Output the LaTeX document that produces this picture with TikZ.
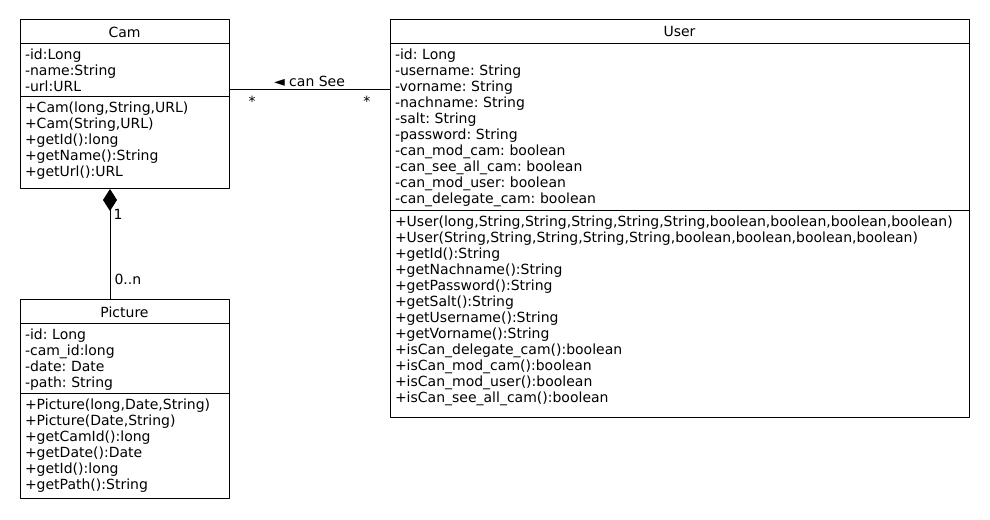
\documentclass[tikz,border=0pt]{standalone}
\usepackage{fontspec}
\setmainfont{DejaVu Sans}
\usetikzlibrary{positioning,arrows.meta}

\begin{document}
\frenchspacing
\begin{tikzpicture}[>=latex,line join=bevel,line width=1bp,
  font=\fontsize{14bp}{16bp}\selectfont,
  classtitle/.style={draw,minimum height=24bp,inner sep=0pt,outer sep=0pt},
  members/.style={draw,align=left,inner xsep=5bp,inner ysep=3.5bp,outer sep=0pt,text height=12bp},
  narrow/.style={text width=199bp},
  wide/.style={text width=569bp},
  mult/.style={inner sep=1bp,yshift=-4.5bp},
  ]
  \useasboundingbox (0bp,0bp) rectangle (990bp,520bp);
  % Node: Cam
  \node[classtitle,minimum width=209bp,anchor=north west] (camT) at (20bp,500bp) {Cam};
  \node[members,narrow,below=0pt of camT,text depth=34bp] (camA) {-id:Long\\-name:String\\-url:URL};
  \node[members,narrow,below=0pt of camA,text depth=73bp] (camM) {+Cam(long,String,URL)\\+Cam(String,URL)\\+getId():long\\+getName():String\\+getUrl():URL};
  % Node: User
  \node[classtitle,minimum width=579bp,right=161bp of camT] (userT) {User};
  \node[members,wide,below=0pt of userT,text depth=148bp] (userA) {-id: Long\\-username: String\\-vorname: String\\-nachname: String\\-salt: String\\-password: String\\-can\_mod\_cam: boolean\\-can\_see\_all\_cam: boolean\\-can\_mod\_user: boolean\\-can\_delegate\_cam: boolean};
  \node[members,wide,below=0pt of userA,text depth=188bp] (userM) {+User(long,String,String,String,String,String,boolean,boolean,boolean,boolean)\\+User(String,String,String,String,String,boolean,boolean,boolean,boolean)\\+getId():String\\+getNachname():String\\+getPassword():String\\+getSalt():String\\+getUsername():String\\+getVorname():String\\+isCan\_delegate\_cam():boolean\\+isCan\_mod\_cam():boolean\\+isCan\_mod\_user():boolean\\+isCan\_see\_all\_cam():boolean};
  % Node: Picture
  \node[classtitle,minimum width=209bp,below=111bp of camM] (picT) {Picture};
  \node[members,narrow,below=0pt of picT,text depth=51bp] (picA) {-id: Long\\-cam\_id:long\\-date: Date\\-path: String};
  \node[members,narrow,below=0pt of picA,text depth=86bp] (picM) {+Picture(long,Date,String)\\+Picture(Date,String)\\+getCamId():long\\+getDate():Date\\+getId():long\\+getPath():String};
  % Edge: Cam -- User
  \coordinate (seeA) at ([yshift=7bp]camA.south east);
  \coordinate (seeB) at (seeA -| userA.west);
  \draw (seeA) -- node[above,inner sep=3bp] {◄ can See}
    node[pos=0.143,below,mult] {*}
    node[pos=0.857,below,mult] {*} (seeB);
  % Edge: Cam <>-- Picture
  \coordinate (partA) at ([xshift=-14.5bp]camM.south);
  \coordinate (partB) at (partA |- picT.north);
  \draw[{Diamond[length=22bp,width=14bp]}-] (partA) -- node[pos=0.225,right,inner sep=3bp] {1}
    node[pos=0.81,right,inner sep=4bp] {0..n} (partB);
\end{tikzpicture}
\end{document}
